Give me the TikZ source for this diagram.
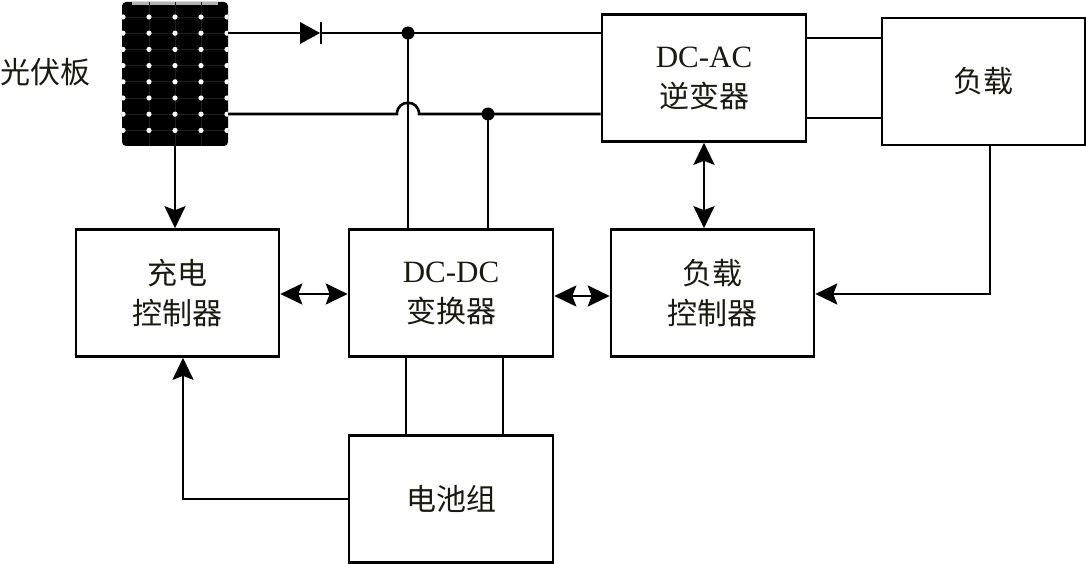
\documentclass[tikz,border=0pt]{standalone}
\usepackage{fontspec}
\setmainfont{Liberation Serif}
\newfontfamily\cjk{Noto Sans CJK SC}
\usetikzlibrary{arrows.meta}
\definecolor{txt}{HTML}{1A1A10}
\tikzset{
  box/.style={draw=black, line width=2.6pt, minimum width=203pt, minimum height=127pt,
    inner sep=0pt, align=center, text=txt, font=\fontsize{30}{40}\selectfont\cjk},
  wire/.style={line width=2.6pt},
  tip/.style={},
  arr/.style={wire, -{Stealth[length=22pt,width=21pt,inset=4pt]}},
  darr/.style={wire, {Stealth[length=22pt,width=21pt,inset=4pt]}-{Stealth[length=22pt,width=21pt,inset=4pt]}},
  jdot/.style={circle, fill=black, inner sep=0pt, minimum size=13pt}
}
\begin{document}
\begin{tikzpicture}[x=1pt,y=-1pt]
\useasboundingbox (0,0) rectangle (1086,564);
% solar panel
\node[draw=none, fill=black, rounded corners=4pt, minimum width=106pt, minimum height=144pt, inner sep=0pt] (pv) at (175,74) {};
\begin{scope}
  \clip[rounded corners=4pt] (122,2) rectangle (228,146);
  \fill[gray!60] (132,2) rectangle (218,5);
  \foreach \x in {149,175,201} \draw[gray!25!black, line width=0.6pt] (\x,2) -- (\x,146);
  \foreach \j in {0,...,7} \draw[gray!25!black, line width=0.6pt] (122,{17+\j*16.2}) -- (228,{17+\j*16.2});
  \foreach \x in {123,149,175,201,227}
    \foreach \j in {0,...,7}
      \fill[white] (\x,{17+\j*16.2}) circle[radius=2.6pt];
\end{scope}
\node[font=\fontsize{30}{34}\selectfont\cjk, text=txt, inner sep=0pt, anchor=west] (pvl) at (0,72) {光伏板};
% boxes
\node[box] (cc) at (177.5,293) {充电\\控制器};
\node[box, minimum width=204pt] (dcdc) at (451,293) {{\fontsize{31}{40}\selectfont\rmfamily DC-DC}\\变换器};
\node[box] (loadc) at (712.5,293) {负载\\控制器};
\node[box, minimum width=204pt] (dcac) at (704,78) {{\fontsize{31}{40}\selectfont\rmfamily DC-AC}\\逆变器};
\node[box] (load) at (983.5,81.5) {负载};
\node[box, minimum width=204pt] (bat) at (451,499) {电池组};
% top wire with diode
\coordinate (d1) at (300,33);
\coordinate (d2) at (321,33);
\draw[wire] (pv.east |- d1) -- (d1);
\fill (300,22) -- (300,44) -- (320,33) -- cycle;
\draw[wire] (321,22) -- (321,44);
\draw[wire] (d2) -- (dcac.west |- d2);
% bottom wire with hop
\coordinate (h1) at (397,114);
\coordinate (h2) at (419,114);
\draw[wire] (pv.east |- h1) -- (h1) .. controls (397,99) and (419,99) .. (h2) -- (dcac.west |- h2);
% junctions
\node[jdot] (j1) at (408,33) {};
\node[jdot] (j2) at (488,114) {};
\draw[wire] (j1.center) -- (j1.center |- dcdc.north);
\draw[wire] (j2.center) -- (j2.center |- dcdc.north);
% dcac to load
\coordinate (w1) at (840,38);
\coordinate (w2) at (840,118);
\draw[wire] (dcac.east |- w1) -- (load.west |- w1);
\draw[wire] (dcac.east |- w2) -- (load.west |- w2);
% panel to charge controller
\draw[arr] (pv.south) -- (pv.south |- cc.north);
% double arrows
\coordinate (a1) at (300,294);
\coordinate (a2) at (580,296);
\draw[darr] (cc.east |- a1) -- (dcdc.west |- a1);
\draw[darr] (dcdc.east |- a2) -- (loadc.west |- a2);
\coordinate (v) at (704,200);
\draw[darr] (v |- dcac.south) -- (v |- loadc.north);
% load feedback
\coordinate (lf) at (990,294);
\draw[arr] (lf |- load.south) -- (lf) -- (lf -| loadc.east);
% dcdc to battery
\coordinate (b1) at (406,400);
\coordinate (b2) at (503,400);
\draw[wire] (b1 |- dcdc.south) -- (b1 |- bat.north);
\draw[wire] (b2 |- dcdc.south) -- (b2 |- bat.north);
% battery feedback
\coordinate (bf) at (183,499);
\draw[arr] (bat.west |- bf) -- (bf) -- (bf |- cc.south);
\end{tikzpicture}
\end{document}
